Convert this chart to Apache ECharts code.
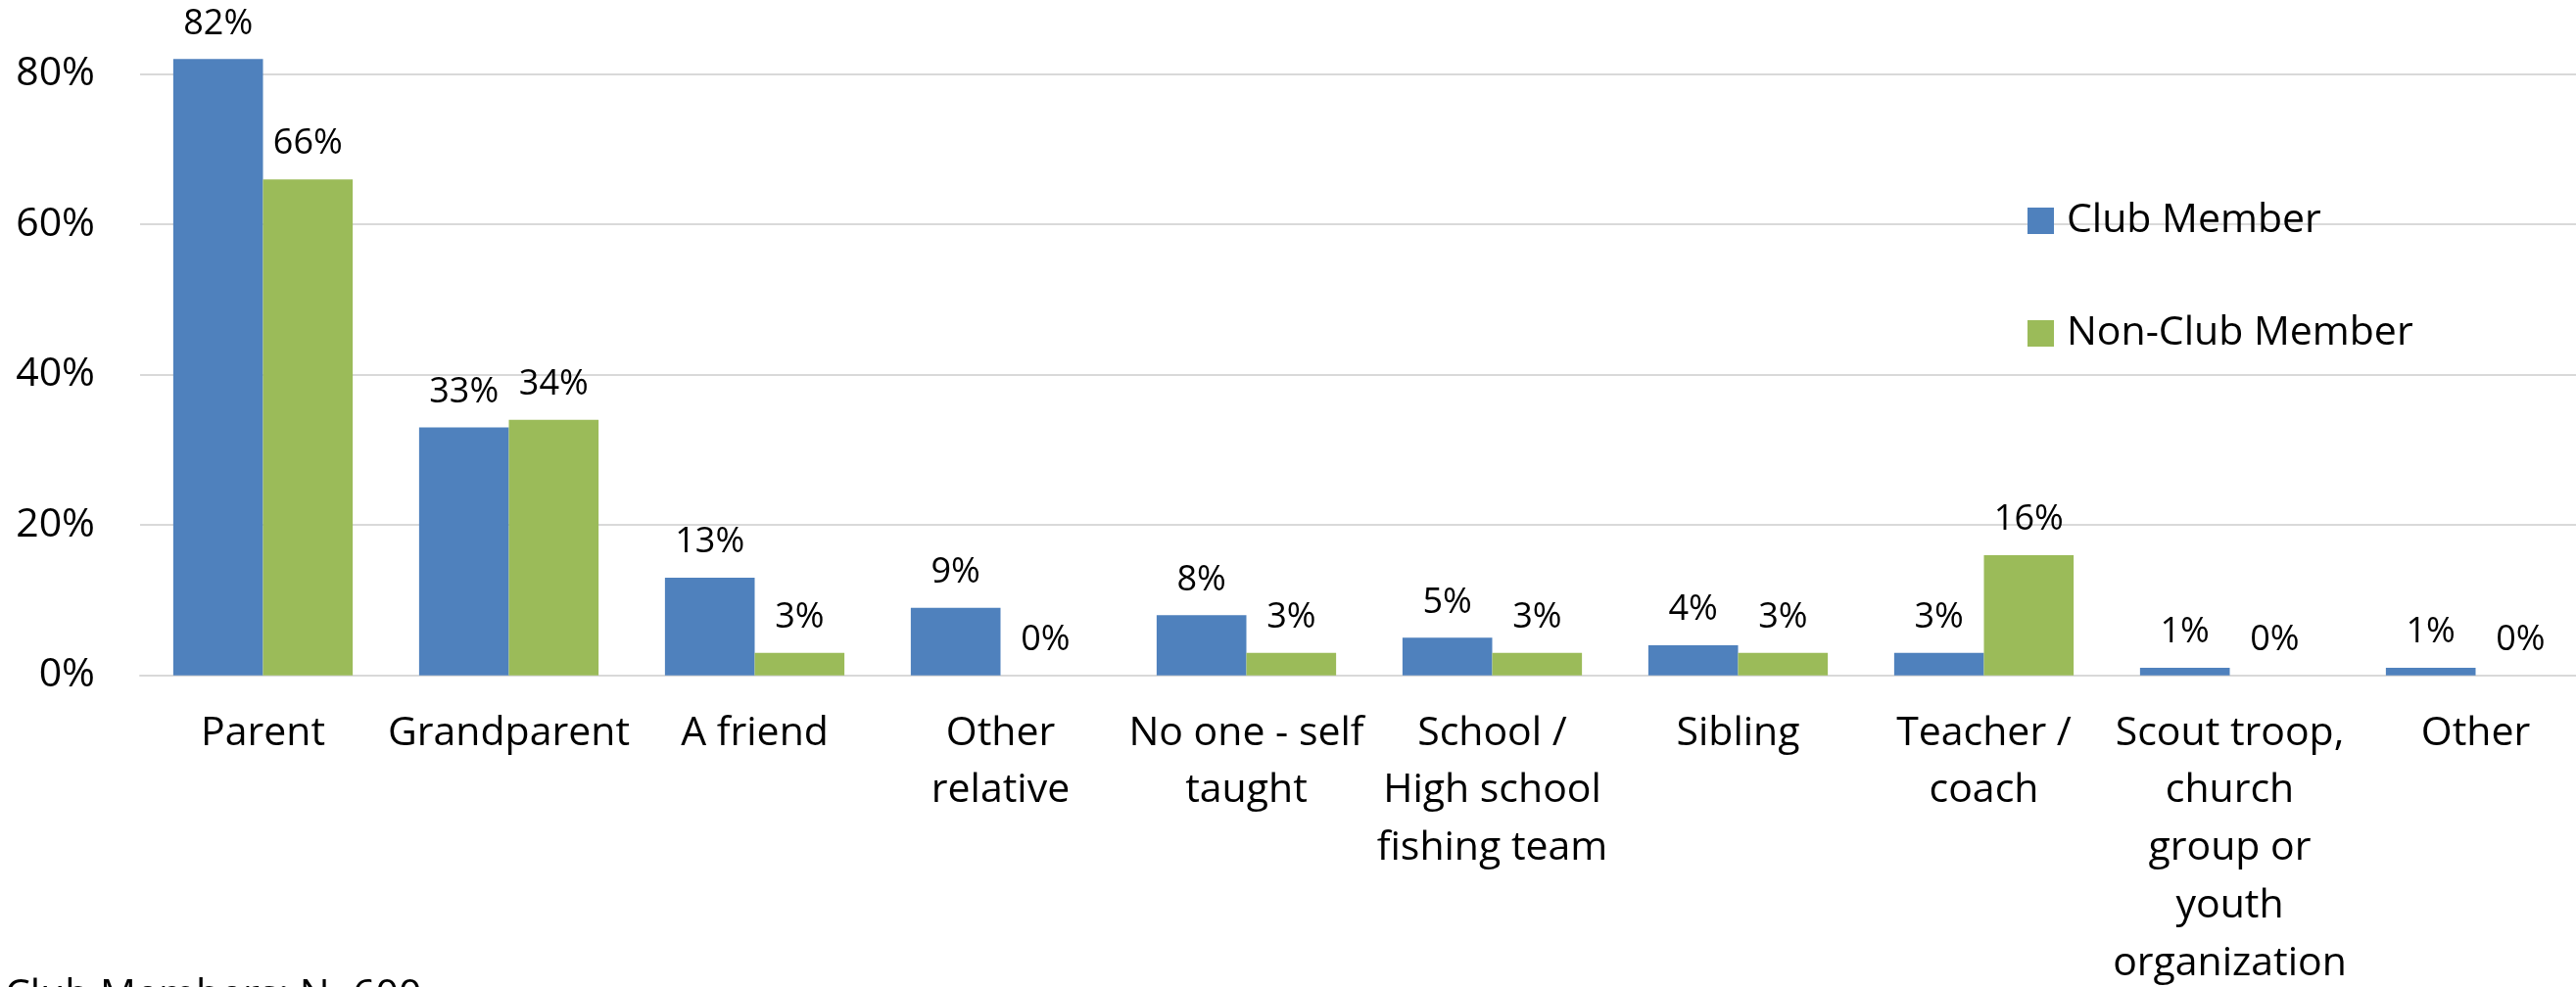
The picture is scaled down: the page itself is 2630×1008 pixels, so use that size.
<!DOCTYPE html>
<html>
<head>
<meta charset="utf-8">
<script src="https://cdn.jsdelivr.net/npm/echarts@6/dist/echarts.min.js"></script>
<style>
  html, body { margin: 0; padding: 0; background: #ffffff; }
  #chart { width: 2630px; height: 1008px; }
</style>
</head>
<body>
<div id="chart"></div>
<script>
// Who taught respondents to fish, by club membership (percent)
const categories = [
  'Parent',
  'Grandparent',
  'A friend',
  'Other\nrelative',
  'No one - self\ntaught',
  'School /\nHigh school\nfishing team',
  'Sibling',
  'Teacher /\ncoach',
  'Scout troop,\nchurch\ngroup or\nyouth\norganization',
  'Other'
];
const clubMember    = [82, 33, 13, 9, 8, 5, 4, 3, 1, 1];
const nonClubMember = [66, 34, 3, 0, 3, 3, 3, 16, 0, 0];
const seriesNames = ['Club Member', 'Non-Club Member'];
const yTicks = [0, 20, 40, 60, 80, 100];
const footnote = 'Club Members: N=600';

const FONT = '"Open Sans", "Noto Sans", sans-serif';
const BLUE = '#4F81BD';
const GREEN = '#9BBB59';
const GRID_GREY = '#D9D9D9';

const chart = echarts.init(document.getElementById('chart'), null, { renderer: 'canvas' });

const valueLabel = {
  show: true,
  position: 'top',
  distance: 18,
  color: '#000000',
  fontFamily: FONT,
  fontSize: 36,
  formatter: p => Math.round(p.value) + '%'
};

chart.setOption({
  animation: false,
  backgroundColor: '#ffffff',
  textStyle: { fontFamily: FONT },
  grid: {
    left: 143,
    right: -23,
    top: -77.8,
    bottom: 318.3,
    containLabel: false,
    outerBoundsMode: 'none'
  },
  legend: {
    orient: 'vertical',
    left: 2065,
    top: 200,
    icon: 'rect',
    itemWidth: 27,
    itemHeight: 27,
    itemGap: 74,
    data: seriesNames,
    textStyle: {
      fontFamily: FONT,
      fontSize: 41,
      lineHeight: 41,
      color: '#000000',
      padding: [0, 0, 0, 8]
    }
  },
  xAxis: {
    type: 'category',
    data: categories,
    axisTick: { show: false },
    axisLine: { show: true, lineStyle: { color: GRID_GREY, width: 2 } },
    axisLabel: {
      interval: 0,
      margin: 30,
      color: '#000000',
      fontFamily: FONT,
      fontSize: 41,
      lineHeight: 58.7
    }
  },
  yAxis: {
    type: 'value',
    min: yTicks[0],
    max: yTicks[yTicks.length - 1],
    interval: 20,
    axisLine: { show: false },
    axisTick: { show: false },
    splitLine: { show: true, lineStyle: { color: GRID_GREY, width: 2 } },
    axisLabel: {
      margin: 46,
      color: '#000000',
      fontFamily: FONT,
      fontSize: 41,
      formatter: v => v + '%'
    }
  },
  series: [
    {
      name: seriesNames[0],
      type: 'bar',
      data: clubMember,
      barGap: '0%',
      barCategoryGap: '27%',
      itemStyle: { color: BLUE },
      label: valueLabel
    },
    {
      name: seriesNames[1],
      type: 'bar',
      data: nonClubMember,
      barGap: '0%',
      barCategoryGap: '27%',
      itemStyle: { color: GREEN },
      label: valueLabel
    }
  ],
  graphic: [
    {
      type: 'text',
      left: 5,
      top: 997,
      style: {
        text: footnote,
        fill: '#000000',
        font: '41px ' + FONT
      }
    }
  ]
});
</script>
</body>
</html>
